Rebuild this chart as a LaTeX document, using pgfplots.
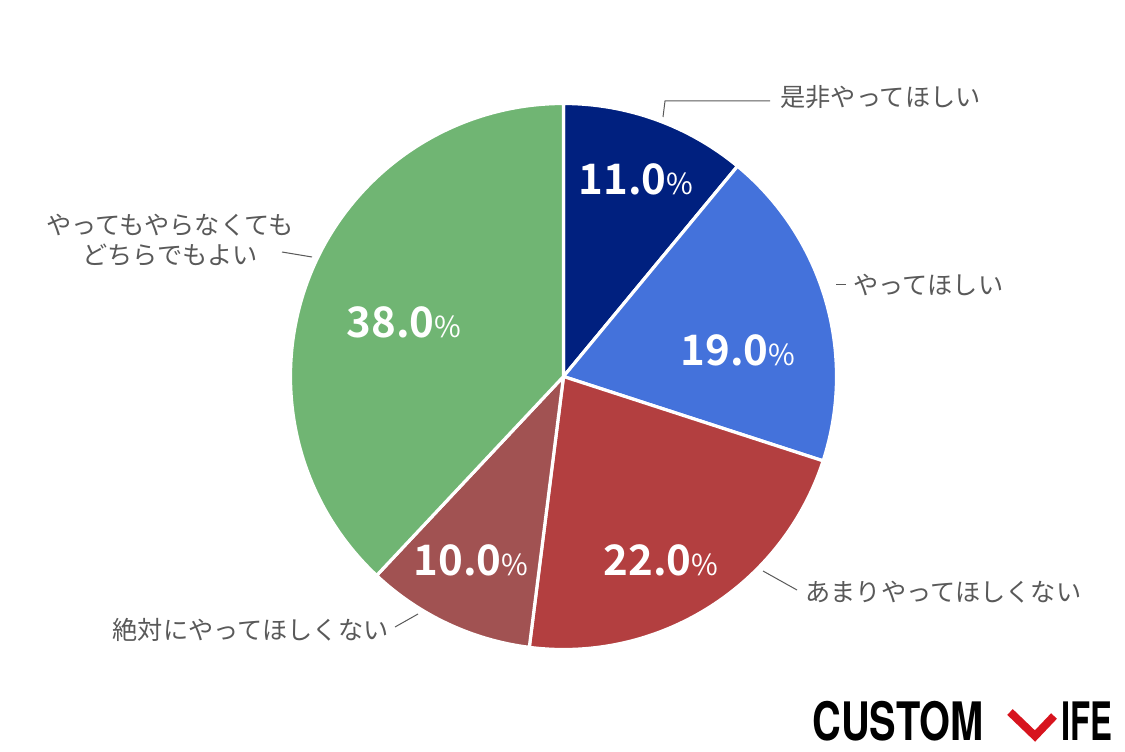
\documentclass[border=0pt]{standalone}
\usepackage{pgfplots}
\pgfplotsset{compat=1.18}
\usepackage{pgfplotstable}
\usepackage{fontspec}
\setmainfont{Noto Sans CJK JP}[BoldFont={* Bold}]
\newfontfamily\logofont{TeX Gyre Heros}
\definecolor{c1}{HTML}{00207F}
\definecolor{c2}{HTML}{4472DB}
\definecolor{c3}{HTML}{B33F40}
\definecolor{c4}{HTML}{A15252}
\definecolor{c5}{HTML}{70B573}
\definecolor{lbl}{HTML}{595959}
\definecolor{logored}{HTML}{D7141E}

\pgfplotstableread{
value col
11 c1
19 c2
22 c3
10 c4
38 c5
}\piedata

\newcommand{\pct}[1]{{\bfseries\fontsize{21}{21}\selectfont #1}{\fontsize{14.5}{14.5}\selectfont\%}}

\begin{document}
\begin{tikzpicture}
\begin{axis}[
  x=0.5pt, y=0.5pt,
  xmin=0, xmax=1125, ymin=0, ymax=751,
  hide axis, clip=false, scale only axis,
]
\path (axis cs:0,0) rectangle (axis cs:1125,751);
\pgfplotstablegetrowsof{\piedata}
\pgfmathtruncatemacro\nrows{\pgfplotsretval-1}
\def\cum{0}
\pgfplotsforeachungrouped \i in {0,...,\nrows}{
  \pgfplotstablegetelem{\i}{value}\of\piedata \let\v\pgfplotsretval
  \pgfplotstablegetelem{\i}{col}\of\piedata \let\c\pgfplotsretval
  \pgfmathsetmacro\a{90-3.6*\cum}
  \pgfmathsetmacro\b{90-3.6*(\cum+\v)}
  \edef\temp{\noexpand\fill[\c, draw=white, line width=1.6pt, line join=round] (axis cs:563.5,374.5) -- ++(\a:136.5pt) arc[start angle=\a, end angle=\b, radius=136.5pt] -- cycle;}
  \temp
  \pgfmathsetmacro\cum{\cum+\v}
}
% percentage labels
\node[white, anchor=base, inner sep=0] at (axis cs:636,556) {\pct{11.0}};
\node[white, anchor=base, inner sep=0] at (axis cs:738,386) {\pct{19.0}};
\node[white, anchor=base, inner sep=0] at (axis cs:661,176) {\pct{22.0}};
\node[white, anchor=base, inner sep=0] at (axis cs:471,176) {\pct{10.0}};
\node[white, anchor=base, inner sep=0] at (axis cs:404,414) {\pct{38.0}};
% category labels
\tikzset{lab/.style={text=lbl, inner sep=0, font=\fontsize{12.6}{15}\selectfont}}
\node[lab, anchor=west] at (axis cs:780,654) {是非やってほしい};
\node[lab, anchor=west] at (axis cs:853,466) {やってほしい};
\node[lab, anchor=west] at (axis cs:805,159) {あまりやってほしくない};
\node[lab, anchor=east] at (axis cs:389,121) {絶対にやってほしくない};
\node[lab, align=center] at (axis cs:170,511) {やってもやらなくても\\どちらでもよい};
% leader lines
\draw[lbl, line width=0.5pt] (axis cs:663,634) -- (axis cs:665,650) -- (axis cs:770,650);
\draw[lbl, line width=0.5pt] (axis cs:836,466) -- (axis cs:846,466);
\draw[lbl, line width=0.5pt] (axis cs:763,180) -- (axis cs:797,161);
\draw[lbl, line width=0.5pt] (axis cs:395,124) -- (axis cs:418,137);
\draw[lbl, line width=0.5pt] (axis cs:282,499) -- (axis cs:312,494);
% logo
\node[anchor=base west, inner sep=0] at (axis cs:812,11) {\scalebox{0.75}[1]{\logofont\bfseries\fontsize{26.5}{26.5}\selectfont CUSTOM}};
\node[anchor=base east, inner sep=0] at (axis cs:1113,11) {\scalebox{0.62}[1]{\logofont\bfseries\fontsize{26.5}{26.5}\selectfont IFE}};
\draw[logored, line width=4pt, line cap=butt, line join=miter] (axis cs:1010,39) -- (axis cs:1035,15) -- (axis cs:1054,35);
\end{axis}
\end{tikzpicture}
\end{document}
